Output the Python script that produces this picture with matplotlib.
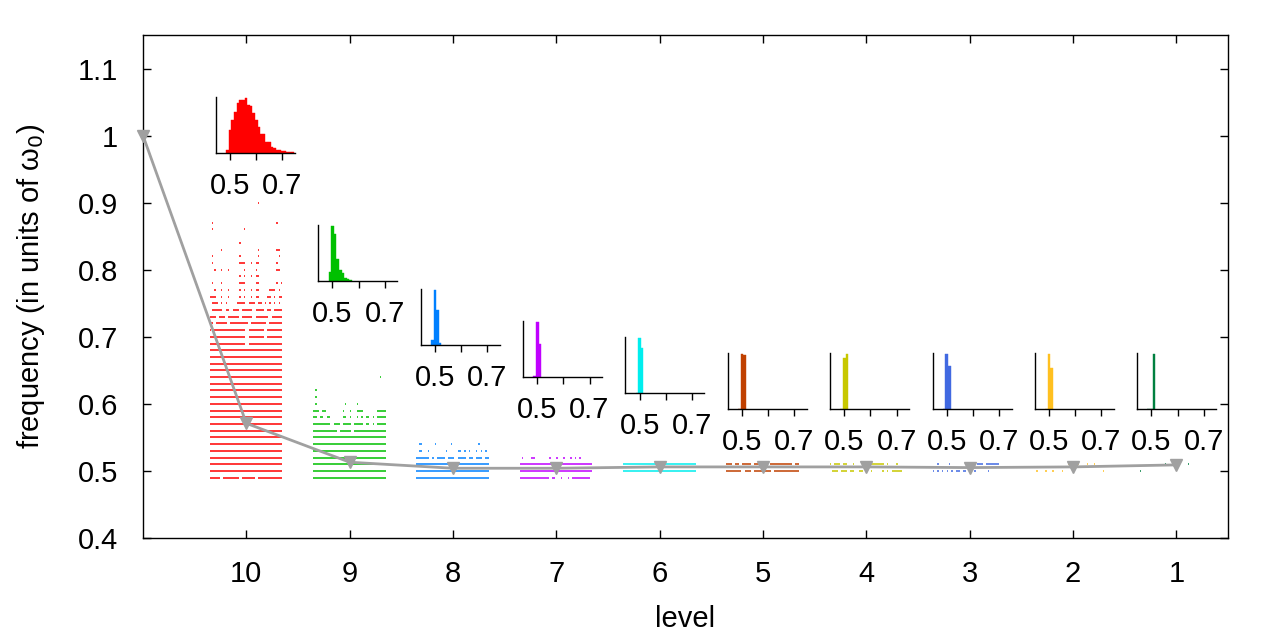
import numpy as np
import matplotlib.pyplot as plt

plt.rcParams['font.family'] = ['Liberation Sans', 'DejaVu Sans']

W, H = 1280, 640

levels = [10, 9, 8, 7, 6, 5, 4, 3, 2, 1]
colors = ['#ff0000', '#00c000', '#0080ff', '#c000ff', '#00eeee',
          '#c04000', '#c8c800', '#4169e1', '#ffc020', '#008040']

# mean frequency per level (11 = starting value)
mean_levels = [11, 10, 9, 8, 7, 6, 5, 4, 3, 2, 1]
mean_freq = [1.0, 0.571, 0.513, 0.504, 0.504, 0.506, 0.506, 0.506, 0.505, 0.506, 0.509]

# histogram counts, bins of 0.01 starting at 0.485
bin_start = 0.485
bin_width = 0.01
hist_10 = [10, 70, 100, 122, 150, 160, 160, 165, 145, 142, 120, 100, 78,
           58, 58, 32, 32, 18, 14, 10, 8, 5, 5, 4, 4, 4]
hist_9 = [28, 165, 141, 66, 33, 25, 9, 5, 3]
hist_8 = [15, 165, 105, 7]
hist_7 = [2, 166, 100]
hist_6 = [0, 165, 135]
hist_5 = [0, 170, 166]
hist_4 = [0, 158, 170]
hist_3 = [0, 170, 134]
hist_2 = [0, 170, 128]
hist_1 = [0, 0, 170]

# spectrum: (frequency, occupancy across the level band, 32 cells)
FULL = '#' * 32
spec_10 = [
    (0.49, '#####.#######.######.###########'),
    (0.50, FULL), (0.51, FULL), (0.52, FULL), (0.53, FULL), (0.54, FULL),
    (0.55, FULL), (0.56, FULL), (0.57, FULL), (0.58, FULL), (0.59, FULL),
    (0.60, FULL), (0.61, FULL), (0.62, FULL), (0.63, FULL), (0.64, FULL),
    (0.65, FULL), (0.66, FULL), (0.67, FULL), (0.68, FULL),
    (0.69, '################.###############'),
    (0.70, '################.#######.#######'),
    (0.71, '#.##############.#######.#######'),
    (0.72, '##.#####.########.#######.######'),
    (0.73, '###.###.#####.#####.######.#####'),
    (0.74, '.#####.##.###.#####.####.##.####'),
    (0.75, '.###.#.#....####.###.##.#.#.#.#.'),
    (0.76, '###..#..#....#.#..#.##...##.#.##'),
    (0.77, '..#..#..#....#.#..#.##....###.#.'),
    (0.78, '.#...#.......###....##.......#.#'),
    (0.79, '.............#.#..#.##..........'),
    (0.80, '..#..#..#......#....#........##.'),
    (0.81, '.#...........###..#.##.......#..'),
    (0.82, '.#...........#.......#........#.'),
    (0.83, '.....#...............#.......##.'),
    (0.84, '.............#..................'),
    (0.86, '.#.............#................'),
    (0.87, '.#...........................#..'),
    (0.90, '.....................#..........'),
]
spec_9 = [
    (0.49, FULL), (0.50, FULL), (0.51, FULL), (0.52, FULL), (0.53, FULL),
    (0.54, FULL), (0.55, FULL),
    (0.56, '###########.#####.##############'),
    (0.57, '########.###.####.####.##.#.####'),
    (0.58, '##.##.##.....##.#..#.#.##.#.####'),
    (0.59, '###.##.......#..#..###......####'),
    (0.60, '.#............#....#............'),
    (0.61, '.#..............................'),
    (0.62, '.#..............................'),
    (0.64, '.............................#..'),
]
spec_8 = [
    (0.49, FULL), (0.50, FULL), (0.51, FULL),
    (0.52, '######.#.####.###.####.##.###.##'),
    (0.53, '.##..#.......#....##.#.#..#.#.#.'),
    (0.54, '.##.....#......#...........#....'),
]
spec_7 = [
    (0.49, '#############.##..#..#.########.'),
    (0.50, FULL), (0.51, FULL),
    (0.52, '.#...##......#..#..#..#.#.#.....'),
]
spec_6 = [(0.50, FULL), (0.51, FULL)]
spec_5 = [
    (0.50, '#######.###.####.###.###########'),
    (0.51, '###.##.####.#####..##########.##'),
]
spec_4 = [
    (0.50, '.###.###.##..##...#....#.#.#####'),
    (0.51, '#.###.##..#......#######.#...#..'),
]
spec_3 = [
    (0.50, '#.#.#.#.#.##.##.#.#.....#.......'),
    (0.51, '..#....#......##...###.######...'),
]
spec_2 = [
    (0.50, '#...#..#...#.................#..'),
    (0.51, '..............#...#...#..#......'),
]
spec_1 = [
    (0.50, '#...............................'),
    (0.51, '...........#.........#..........'),
]

hists = [hist_10, hist_9, hist_8, hist_7, hist_6, hist_5, hist_4, hist_3, hist_2, hist_1]
specs = [spec_10, spec_9, spec_8, spec_7, spec_6, spec_5, spec_4, spec_3, spec_2, spec_1]

fig = plt.figure(figsize=(W / 100, H / 100), dpi=100)
ax = fig.add_axes([143 / W, 1 - 538 / H, (1228 - 143) / W, (538 - 35) / H])

# spectrum bands
ncell = 32
band = 0.712
cw = band / ncell
shrink = 0.2 * cw
for lev, col, spec in zip(levels, colors, specs):
    left = lev + band / 2 + shrink
    for f, mask in spec:
        i = 0
        while i < len(mask):
            if mask[i] == '#':
                j = i
                while j + 1 < len(mask) and mask[j + 1] == '#':
                    j += 1
                x0 = left - i * cw - shrink
                x1 = left - (j + 1) * cw + shrink
                ax.plot([x0, x1], [f, f], color=col, lw=1.1, solid_capstyle='butt')
                i = j + 1
            else:
                i += 1

ax.plot(mean_levels, mean_freq, color='#a0a0a0', lw=2.0, marker='v', ms=9,
        clip_on=False, zorder=5)

ax.set_xlim(11, 0.5)
ax.set_ylim(0.4, 1.15)
ax.set_xticks(levels)
ax.set_xticklabels([str(l) for l in levels])
yt = [0.4, 0.5, 0.6, 0.7, 0.8, 0.9, 1.0, 1.1]
ax.set_yticks(yt)
ax.set_yticklabels(['%g' % v for v in yt])
ax.tick_params(direction='in', top=True, right=True, length=6, width=1,
               labelsize=21)
ax.tick_params(axis='x', pad=16)
ax.tick_params(axis='y', pad=18)
for s in ax.spines.values():
    s.set_linewidth(1)
ax.set_xlabel('level', fontsize=21, labelpad=12)
ax.set_ylabel('frequency (in units of ω$_0$)', fontsize=21, labelpad=22)

# histogram insets
inset_bottoms = [153, 281, 345, 377, 393, 409, 409, 409, 409, 409]
for k, (col, counts) in enumerate(zip(colors, hists)):
    lx = 216 + 102.36 * k
    by = inset_bottoms[k]
    iax = fig.add_axes([lx / W, 1 - by / H, 79 / W, 56 / H])
    iax.patch.set_alpha(0)
    edges = [bin_start + bin_width * n for n in range(len(counts))]
    iax.bar(edges, counts, width=bin_width, align='edge', color=col,
            edgecolor=col, linewidth=0.3)
    iax.set_xlim(0.446, 0.748)
    iax.set_ylim(0, max(counts) * 1.02)
    iax.spines['top'].set_visible(False)
    iax.spines['right'].set_visible(False)
    iax.spines['left'].set_linewidth(1)
    iax.spines['bottom'].set_linewidth(1)
    iax.set_yticks([])
    iax.set_xticks([0.5, 0.6, 0.7])
    iax.set_xticklabels(['0.5', '', '0.7'])
    iax.tick_params(axis='x', direction='out', length=5, width=1,
                    labelsize=21, pad=9)

fig.savefig('out.png', dpi=100)
